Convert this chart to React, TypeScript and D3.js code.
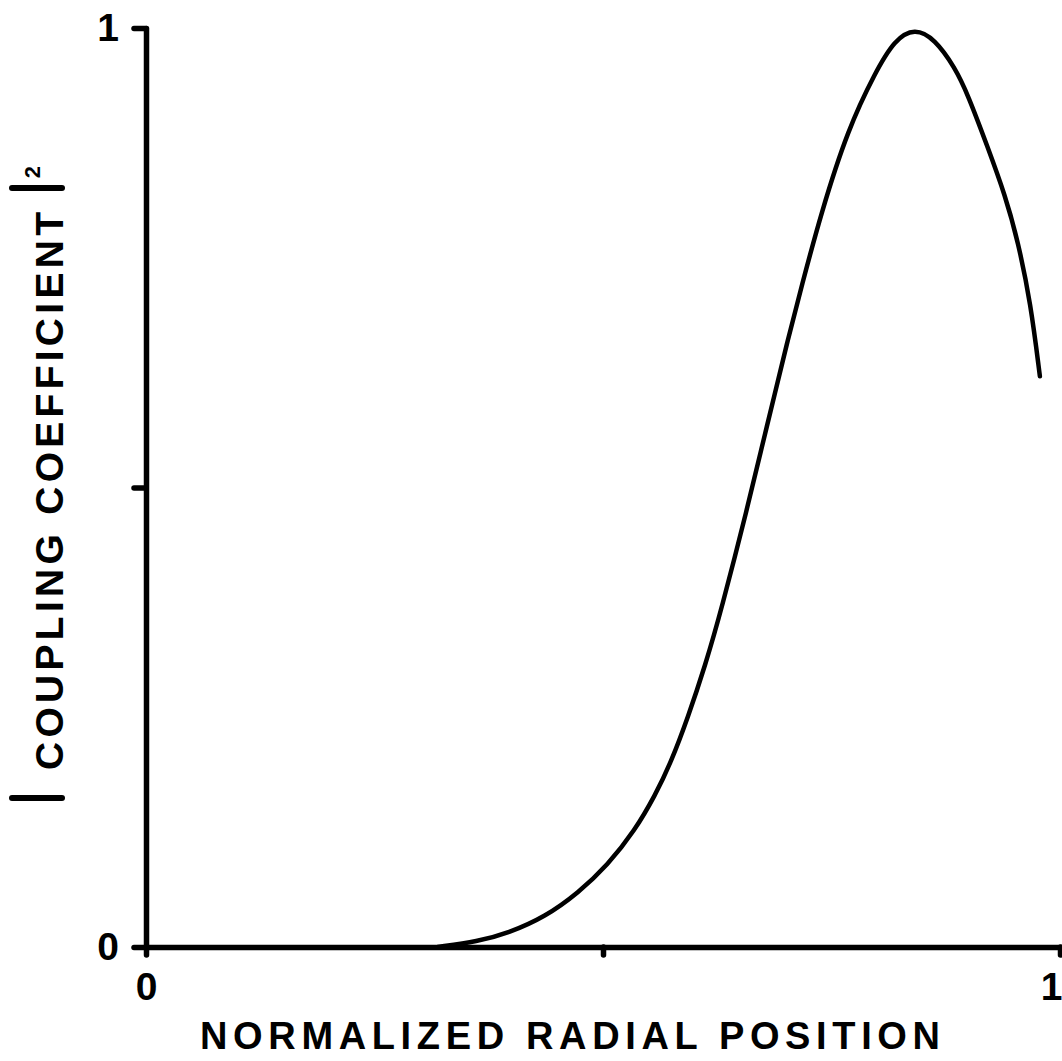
import * as d3 from "d3"
import { useEffect, useRef } from "react"

// values
const radialPosition = [0.319, 0.363, 0.396, 0.437, 0.473, 0.505, 0.535, 0.557, 0.574, 0.593, 0.612, 0.629, 0.659, 0.673, 0.688, 0.702, 0.717, 0.739, 0.768, 0.798, 0.819, 0.841, 0.863, 0.885, 0.899, 0.921, 0.94, 0.954, 0.968, 0.978]
const coupling = [0, 0.006, 0.015, 0.033, 0.059, 0.089, 0.127, 0.165, 0.2, 0.25, 0.307, 0.365, 0.482, 0.541, 0.602, 0.66, 0.718, 0.8, 0.89, 0.952, 0.987, 1.0, 0.988, 0.957, 0.928, 0.87, 0.818, 0.768, 0.7, 0.621]
const xTicks = [0, 0.5, 1]
const yTicks = [0, 0.5, 1]
const tickLabels = ["0", "", "1"]

const font = "'Liberation Sans', Arial, Helvetica, sans-serif"

export default function App() {
    const svgRef = useRef<SVGSVGElement>(null)

    useEffect(() => {
        document.body.style.margin = "0"
        const width = 1062
        const height = 1061

        const xScale = d3.scaleLinear([0, 1], [146, 1060])
        const yScale = d3.scaleLinear([0, 1], [947, 28])

        if (svgRef.current !== null) {
            svgRef.current.innerHTML = ""
        }

        const svg = d3.select(svgRef.current)
            .attr("width", width)
            .attr("height", height)
            .attr("viewBox", [0, 0, width, height])
            .style("display", "block")
            .style("background", "white")

        const styleAxis = (g: any) => {
            g.select(".domain").attr("stroke-width", 5.5).attr("stroke-linecap", "round")
            g.selectAll(".tick line").attr("stroke-width", 5.5).attr("stroke-linecap", "round")
            g.selectAll(".tick text")
                .attr("font-family", font)
                .attr("font-weight", "bold")
                .attr("font-size", 39)
                .attr("fill", "black")
        }

        svg.append("g")
            .attr("transform", `translate(0, ${yScale(0)})`)
            .call(d3.axisBottom(xScale).tickValues(xTicks).tickSize(8).tickSizeOuter(0).tickPadding(17)
                .tickFormat((_d, i) => tickLabels[i]))
            .call(styleAxis)
            .call(g => g.selectAll(".tick text").filter((d: any) => d === 1)
                .attr("text-anchor", "end").attr("x", 2))

        svg.append("g")
            .attr("transform", `translate(${xScale(0)}, 0)`)
            .call(d3.axisLeft(yScale).tickValues(yTicks).tickSize(12).tickSizeOuter(0).tickPadding(15)
                .tickFormat((_d, i) => tickLabels[i]))
            .call(styleAxis)

        const data = radialPosition.map((x, i) => [x, coupling[i]] as [number, number])
        const line = d3.line<[number, number]>()
            .x(d => xScale(d[0]))
            .y(d => yScale(d[1]))
            .curve(d3.curveBasis)

        svg.append("path")
            .datum(data)
            .attr("fill", "none")
            .attr("stroke", "black")
            .attr("stroke-width", 4.5)
            .attr("stroke-linecap", "round")
            .attr("d", line)

        // x axis title
        svg.append("text")
            .attr("x", 200)
            .attr("y", 1049)
            .attr("font-family", font)
            .attr("font-weight", "bold")
            .attr("font-size", 38)
            .attr("textLength", 740)
            .attr("lengthAdjust", "spacing")
            .text("NORMALIZED RADIAL POSITION")

        // y axis title with |...|^2
        svg.append("text")
            .attr("transform", "translate(63, 491) rotate(-90)")
            .attr("text-anchor", "middle")
            .attr("font-family", font)
            .attr("font-weight", "bold")
            .attr("font-size", 39)
            .attr("textLength", 558)
            .attr("lengthAdjust", "spacing")
            .text("COUPLING COEFFICIENT")

        const bars = [188, 798]
        svg.append("g")
            .selectAll("line")
            .data(bars)
            .join("line")
            .attr("x1", 12)
            .attr("x2", 62)
            .attr("y1", d => d)
            .attr("y2", d => d)
            .attr("stroke", "black")
            .attr("stroke-width", 6)
            .attr("stroke-linecap", "round")

        svg.append("text")
            .attr("transform", "translate(40, 172) rotate(-90)")
            .attr("text-anchor", "middle")
            .attr("font-family", font)
            .attr("font-weight", "bold")
            .attr("font-size", 22)
            .text("2")
    }, [])

    return <svg ref={svgRef}></svg>
}
